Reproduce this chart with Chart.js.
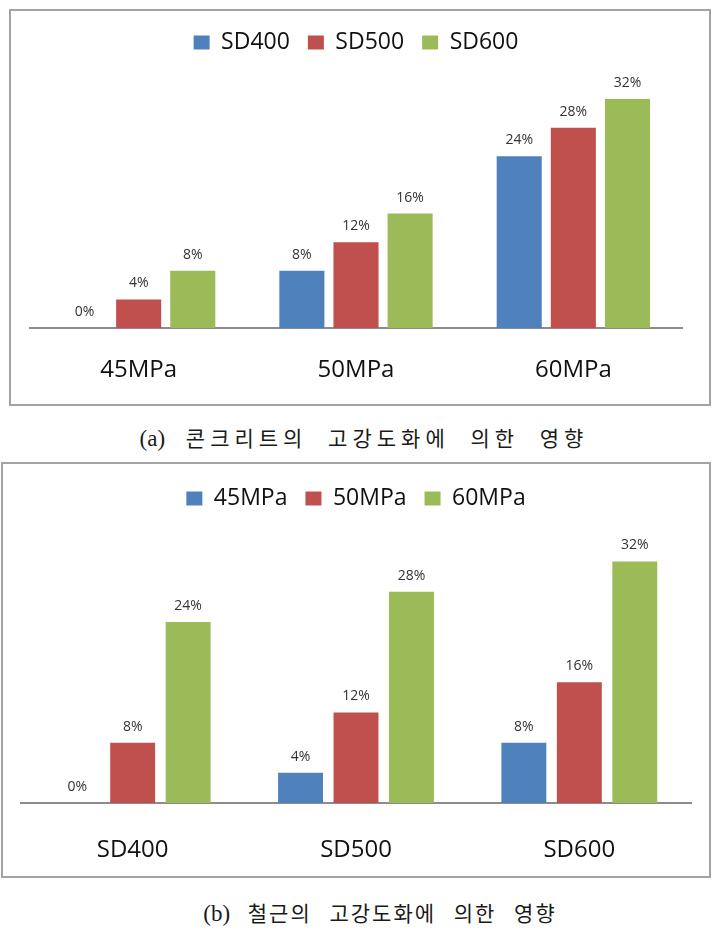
<!DOCTYPE html>
<html>
<head>
<meta charset="utf-8">
<script src="https://cdn.jsdelivr.net/npm/chart.js@4.4.1/dist/chart.umd.min.js"></script>
<style>
  html, body { margin: 0; padding: 0; background: #fff; }
  body { width: 724px; height: 931px; position: relative; overflow: hidden; }
  .cv { position: absolute; }
  .frame { position: absolute; border: 2px solid #a3a3a3; box-sizing: border-box; pointer-events: none; }
  .cap { position: absolute; white-space: nowrap; font-family: "Noto Sans CJK KR", sans-serif; font-size: 21px; color: #1a1a1a; transform: translateX(-50%); }
  .cap .lbl { font-family: "Liberation Serif", "DejaVu Serif", serif; font-size: 23px; letter-spacing: 0; }
</style>
</head>
<body>
<div class="cv" style="left:10px;top:10px;width:700px;height:395px;"><canvas id="chartA"></canvas></div>
<div class="frame" style="left:9px;top:9px;width:702px;height:397px;"></div>
<div class="cap" style="left:364px;top:422px;letter-spacing:5px;word-spacing:11px;"><span class="lbl">(a)</span> 콘크리트의 고강도화에 의한 영향</div>

<div class="cv" style="left:2px;top:463px;width:708px;height:414px;"><canvas id="chartB"></canvas></div>
<div class="frame" style="left:1px;top:462px;width:710px;height:416px;"></div>
<div class="cap" style="left:380px;top:897px;letter-spacing:2px;word-spacing:11px;"><span class="lbl">(b)</span> 철근의 고강도화에 의한 영향</div>

<script>
// ---- Chart (a): concrete strength ----
const concreteCategories = ["45MPa", "50MPa", "60MPa"];
const rebarSeriesNames = ["SD400", "SD500", "SD600"];
const sd400Values = [0, 8, 24];
const sd500Values = [4, 12, 28];
const sd600Values = [8, 16, 32];

// ---- Chart (b): rebar strength ----
const rebarCategories = ["SD400", "SD500", "SD600"];
const concreteSeriesNames = ["45MPa", "50MPa", "60MPa"];
const mpa45Values = [0, 4, 8];
const mpa50Values = [8, 12, 16];
const mpa60Values = [24, 28, 32];

const axisMaxA = 36.9;
const axisMaxB = 37.5;

const colors = ["#4F81BD", "#C0504D", "#9BBB59"];
const sansFont = "'Open Sans', 'Noto Sans', sans-serif";

const valueLabels = {
  id: 'valueLabels',
  afterDatasetsDraw(chart) {
    const ctx = chart.ctx;
    ctx.save();
    ctx.font = "14px " + sansFont;
    ctx.fillStyle = "#333333";
    ctx.textAlign = "center";
    ctx.textBaseline = "middle";
    chart.data.datasets.forEach((ds, i) => {
      const meta = chart.getDatasetMeta(i);
      meta.data.forEach((bar, j) => {
        ctx.fillText(ds.data[j] + "%", bar.x, bar.y - 16);
      });
    });
    ctx.restore();
  }
};

function makeChart(id, labels, names, series, yMax, catPct, barPct, padding, tickPad, axisHeight) {
  return new Chart(document.getElementById(id), {
    type: 'bar',
    data: {
      labels: labels,
      datasets: series.map((d, i) => ({
        label: names[i],
        data: d,
        backgroundColor: colors[i],
        borderWidth: 0,
        categoryPercentage: catPct,
        barPercentage: barPct
      }))
    },
    options: {
      responsive: true,
      maintainAspectRatio: false,
      animation: false,
      events: [],
      layout: { padding: padding },
      plugins: {
        legend: {
          display: true,
          position: 'top',
          labels: {
            boxWidth: 16,
            boxHeight: 14,
            padding: 18,
            color: "#111",
            font: { family: sansFont, size: 23 }
          }
        },
        tooltip: { enabled: false }
      },
      scales: {
        x: {
          grid: { display: false },
          border: { display: true, color: "#8c8c8c", width: 2 },
          ticks: { color: "#111", padding: tickPad, font: { family: sansFont, size: 24 } },
          afterFit(scale) { scale.height = axisHeight; }
        },
        y: {
          display: false,
          min: 0,
          max: yMax
        }
      }
    },
    plugins: [valueLabels]
  });
}

makeChart('chartA', concreteCategories, rebarSeriesNames,
  [sd400Values, sd500Values, sd600Values], axisMaxA, 0.747, 0.833,
  { left: 20, right: 28, top: 3, bottom: 0 }, 20, 77);

makeChart('chartB', rebarCategories, concreteSeriesNames,
  [mpa45Values, mpa50Values, mpa60Values], axisMaxB, 0.745, 0.81,
  { left: 19, right: 19, top: 6, bottom: 0 }, 25, 74);
</script>
</body>
</html>
